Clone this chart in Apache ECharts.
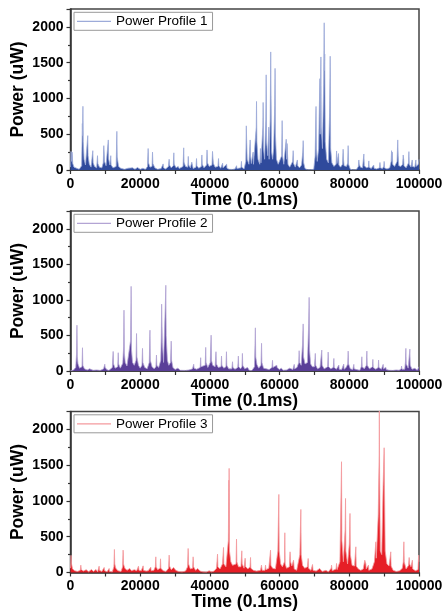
<!DOCTYPE html>
<html>
<head>
<meta charset="utf-8">
<script src="https://cdn.jsdelivr.net/npm/echarts@6/dist/echarts.min.js"></script>
<style>
  html, body { margin: 0; padding: 0; background: #fff; }
  #chart { width: 445px; height: 612px; }
</style>
</head>
<body>
<div id="chart"></div>
<script>
// values: [time (0.1ms), power (uW)]
const profile1 = [
  [0,40],[150,260],[300,120],[450,250],[650,90],[1000,40],[1500,15],[2500,10],[3200,60],[3400,650],[3480,480],[3560,890],[3650,400],[3900,150],[4300,70],
  [4800,50],[4950,480],[5050,200],[5400,80],[5900,40],[6300,50],[6400,270],[6500,100],[6900,50],[7500,30],[7750,200],[7850,90],[8300,40],[9000,30],
  [9400,100],[9550,340],[9650,250],[9750,120],[10200,60],[10700,80],[10850,420],[10950,150],[11300,70],[11550,200],[11650,70],[12200,30],[13100,50],
  [13300,540],[13400,180],[13800,50],[14400,25],[15500,10],[16500,25],[17000,8],[17800,30],[18500,10],[19200,35],[20000,10],[20800,25],[21500,8],
  [22100,50],[22280,300],[22380,100],[22800,40],[23400,50],[23530,250],[23650,90],[24200,30],[25000,10],[26000,20],[26580,85],[26700,30],[27300,15],
  [28100,50],[28300,150],[28400,70],[28900,30],[29500,60],[29650,240],[29750,80],[30300,30],[30900,50],[31200,20],[32300,50],[32480,310],[32580,110],
  [33000,50],[33650,40],[33800,190],[33900,70],[34400,30],[34800,110],[35200,20],[36000,40],[36160,160],[36260,60],[36800,25],[37550,50],[37700,210],
  [37800,80],[38300,30],[39050,70],[39180,280],[39300,100],[39800,50],[40600,70],[40750,260],[40850,180],[41000,90],[41500,40],[42300,50],[42480,160],
  [42580,60],[43100,25],[43650,95],[43750,30],[44300,20],[44800,80],[44900,25],[45500,10],[46500,8],[47200,15],[47650,60],[47750,20],[48300,10],
  [48900,30],[49050,120],[49150,40],[49800,15],[50300,120],[50450,617],[50550,400],[50700,150],[51200,80],[51550,420],[51650,200],[51900,90],
  [52400,250],[52500,80],[53000,100],[53300,600],[53380,958],[53480,400],[53800,150],[54300,80],[54500,300],[54650,100],[55000,120],[55200,600],
  [55280,944],[55380,300],[55700,150],[56050,700],[56150,1330],[56250,400],[56600,200],[56900,600],[57000,150],[57300,700],[57450,1650],[57550,1000],
  [57700,250],[58000,150],[58300,300],[58600,900],[58700,1420],[58800,500],[59100,150],[59600,80],[60000,60],[60600,200],[60730,690],[60830,200],
  [61200,80],[61900,430],[62000,150],[62150,370],[62400,80],[62900,40],[63750,120],[63900,270],[64000,90],[64500,40],[65100,140],[65200,60],
  [65700,30],[66300,70],[66650,250],[66770,410],[66900,100],[67300,20],[68000,5],[69000,5],[69800,10],[70200,200],[70450,888],[70550,300],[70800,120],
  [71200,300],[71550,1276],[71650,500],[71850,1580],[71950,600],[72300,300],[72650,1200],[72800,2057],[72850,1390],[72950,1620],[73100,400],[73500,150],
  [74000,100],[74350,800],[74520,1590],[74650,300],[75000,100],[75600,50],[76200,80],[76350,266],[76450,90],[76900,230],[77000,70],[77500,40],
  [78050,80],[78230,290],[78330,150],[78500,60],[79200,50],[79550,100],[79670,340],[79780,80],[80300,10],[81000,3],[82000,5],[82600,50],[82740,140],
  [82850,80],[83200,40],[83800,30],[84180,224],[84300,60],[84900,30],[85500,40],[85600,127],[85700,40],[86300,20],[87000,70],[87100,25],[87800,15],
  [88700,30],[88800,105],[88900,30],[89500,20],[89900,50],[90000,120],[90100,30],[90800,15],[91600,30],[92000,120],[92130,270],[92250,120],[92350,250],
  [92450,80],[93000,50],[93700,120],[93900,420],[94030,200],[94200,60],[94800,50],[95300,80],[95470,210],[95600,150],[95700,60],[96300,30],[97000,100],
  [97100,257],[97200,80],[97700,40],[98050,140],[98150,50],[98800,40],[99100,140],[99200,50],[99800,80],[100000,150]
];
const profile2 = [
  [0,5],[800,10],[1500,50],[1750,250],[1850,644],[1950,200],[2150,100],[2600,40],[3300,60],[3440,327],[3540,80],[4000,30],[4800,15],[5500,30],[6500,10],
  [7500,15],[8500,8],[9500,30],[9840,95],[9950,50],[10400,20],[11000,8],[12000,50],[12240,275],[12340,100],[12800,40],[13550,60],[13700,257],[13800,100],
  [14300,40],[15000,110],[15250,340],[15350,855],[15450,250],[15700,120],[16200,70],[16700,60],[17250,433],[17400,1190],[17500,300],[17800,120],
  [18300,80],[18800,150],[18950,527],[19050,200],[19500,80],[20000,40],[20500,80],[20660,318],[20760,120],[21300,50],[22000,30],[22600,120],
  [22800,574],[22900,150],[23400,60],[24000,30],[24500,60],[24670,224],[24770,80],[25300,50],[25900,150],[26050,480],[26150,940],[26250,937],
  [26350,400],[26700,120],[27200,900],[27350,1205],[27450,500],[27800,150],[28200,80],[28700,120],[28900,420],[29000,150],[29400,50],[30000,20],
  [30800,40],[31500,10],[33000,8],[34000,15],[35000,30],[35350,95],[35450,40],[36200,25],[37200,50],[37350,187],[37450,60],[38000,40],[38650,80],
  [38800,332],[38900,120],[39400,50],[40100,120],[40350,504],[40450,150],[40800,80],[41500,60],[41750,271],[41850,100],[42400,50],[43200,60],
  [43330,210],[43430,80],[44000,40],[44600,60],[44750,271],[44850,80],[45400,30],[46300,30],[46490,130],[46600,50],[47200,25],[48000,50],[48170,210],
  [48270,60],[48800,30],[49200,60],[49330,247],[49430,80],[50000,30],[50800,50],[51300,10],[52000,5],[52800,60],[52950,387],[53050,607],[53150,200],
  [53500,90],[54000,40],[54650,80],[54820,390],[54920,120],[55400,40],[56200,30],[57000,20],[57800,50],[57970,150],[58070,50],[58600,25],[59200,80],
  [59300,50],[59900,20],[60500,40],[61000,10],[62000,15],[62900,40],[63000,20],[63800,20],[64200,93],[64300,30],[65000,50],[65500,120],[65610,285],
  [65710,120],[66200,80],[66600,387],[66760,662],[66860,200],[67300,100],[68000,120],[68350,667],[68480,1035],[68580,300],[68900,100],[69400,60],
  [70000,60],[70250,247],[70350,80],[70900,30],[71600,50],[72100,294],[72200,80],[72800,30],[73800,60],[73940,266],[74040,60],[74700,30],[75400,50],
  [75570,177],[75670,50],[76300,25],[77000,84],[77100,25],[77800,20],[78400,98],[78500,25],[79100,50],[79550,100],[79680,280],[79780,100],[80300,30],
  [81000,20],[81300,93],[81400,30],[82100,20],[83000,10],[83450,60],[83600,200],[83700,60],[84300,30],[84900,80],[85040,280],[85140,80],[85800,30],
  [86650,60],[86760,163],[86860,50],[87600,25],[88300,50],[88400,154],[88500,50],[89200,25],[89650,40],[89720,93],[89800,30],[90500,50],[90600,20],
  [91500,10],[92500,8],[93500,15],[94300,10],[94900,30],[95000,70],[95100,25],[95900,25],[96100,120],[96230,318],[96330,100],[96900,40],[97250,60],
  [97380,308],[97480,80],[98000,25],[98800,37],[99500,10],[100000,60]
];
const profile3 = [
  [0,60],[150,240],[300,120],[600,50],[1200,25],[2000,15],[2800,30],[2960,103],[3100,40],[3700,20],[4500,40],[5200,10],[6000,42],[6600,15],[7300,42],
  [7800,10],[8100,30],[8210,89],[8300,30],[9000,15],[9550,25],[9650,70],[9800,25],[10500,10],[11000,25],[11080,56],[11200,15],[12000,10],[12450,80],
  [12600,322],[12700,120],[13000,60],[13600,25],[14500,15],[14950,80],[15100,313],[15200,120],[15600,60],[16200,30],[17000,56],[17500,25],[18300,40],
  [19000,25],[19510,89],[19650,30],[20300,25],[20840,93],[20950,30],[21700,20],[22300,25],[23040,75],[23150,25],[23900,30],[24350,80],[24480,219],
  [24580,80],[25000,40],[25700,60],[25830,191],[25930,60],[26600,25],[27400,15],[28150,60],[28310,243],[28410,90],[28900,40],[29600,70],[30200,30],
  [31000,15],[32000,10],[33000,20],[33600,80],[33760,336],[33860,120],[34400,50],[35050,60],[35190,219],[35300,80],[35900,30],[36500,56],[37200,20],
  [38000,10],[39000,8],[39780,23],[40500,10],[41200,20],[41900,60],[42190,257],[42300,80],[42900,50],[43600,120],[43910,350],[44000,120],[44600,80],
  [45300,450],[45420,1290],[45470,545],[45520,1455],[45620,300],[46000,150],[46500,100],[47000,80],[47500,120],[47640,467],[47740,150],[48200,80],
  [48900,80],[49160,303],[49260,120],[49800,60],[50110,200],[50250,80],[50900,50],[51500,80],[51660,210],[51760,60],[52500,30],[53400,20],[54500,30],
  [54800,103],[55000,30],[55800,30],[55960,103],[56100,40],[56900,60],[57400,312],[57500,100],[58000,60],[58800,50],[59500,300],[59780,1091],[59880,300],
  [60300,120],[60800,80],[61400,150],[61500,555],[61600,120],[62000,60],[62800,80],[63000,289],[63150,150],[63500,90],[64000,172],[64200,50],
  [64900,30],[65800,250],[66100,881],[66200,250],[66600,100],[67200,60],[68000,80],[68200,196],[68300,60],[69000,30],[69450,112],[69600,30],[70500,20],
  [71500,56],[72200,15],[73300,30],[74000,10],[74800,60],[74900,103],[75100,25],[76200,50],[76340,126],[76500,40],[77300,150],[77500,700],[77770,1548],
  [77870,450],[78300,150],[78800,600],[78920,1035],[79020,300],[79500,120],[80000,400],[80200,825],[80300,250],[80800,100],[81500,90],[81880,359],
  [81980,90],[82600,50],[83300,30],[84000,50],[84440,172],[84750,120],[84850,50],[85500,103],[85600,30],[86500,50],[87200,150],[87620,429],[87750,200],
  [88300,800],[88570,1641],[88620,2303],[88700,1400],[88900,300],[89300,250],[89700,1200],[90000,1743],[90100,1200],[90300,300],[90800,120],[91400,90],
  [91900,289],[92000,90],[92600,30],[93500,15],[94500,25],[95200,60],[95500,150],[95660,429],[95760,150],[96300,50],[97000,100],[97180,210],[97300,120],
  [97700,80],[98100,172],[98200,50],[99000,25],[99700,40],[99900,242],[100000,150]
];
const seriesNames = ['Power Profile 1', 'Power Profile 2', 'Power Profile 3'];
const darkColors = ['#2f4a9c', '#5a3e98', '#e61e26'];
const lightColors = ['#9dabd9', '#b3a4d4', '#f49a9e'];
const yTicks = [0, 500, 1000, 1500, 2000];

const chart = echarts.init(document.getElementById('chart'), null, { renderer: 'canvas' });
const tops = [9, 211, 411.5];
const heights = [161, 160, 161];
const datas = [profile1, profile2, profile3];
const font = 'Liberation Sans, Arial, sans-serif';

let grids = [], xAxes = [], yAxes = [], legends = [], series = [];
for (let i = 0; i < 3; i++) {
  grids.push({
    left: 70.5, right: 26, top: tops[i], height: heights[i],
    containLabel: false, outerBoundsMode: 'none',
    show: true, borderColor: '#444', borderWidth: 1.5, backgroundColor: 'transparent'
  });
  xAxes.push({
    type: 'value', gridIndex: i, min: 0, max: 100000, interval: 20000,
    name: 'Time (0.1ms)', nameLocation: 'middle', nameGap: 21, nameMoveOverlap: false,
    nameTextStyle: { fontFamily: font, fontWeight: 'bold', fontSize: 17.5, color: '#000' },
    axisLine: { show: true, onZero: false, lineStyle: { color: '#333', width: 1.5 } },
    axisTick: { show: true, inside: false, length: 4, lineStyle: { color: '#333', width: 1.2 } },
    minorTick: { show: true, splitNumber: 2, length: 4, lineStyle: { color: '#333', width: 1.2 } },
    splitLine: { show: false },
    axisLabel: {
      fontFamily: font, fontWeight: 'bold', fontSize: 14, color: '#000', margin: 7,
      formatter: v => String(v)
    }
  });
  yAxes.push({
    type: 'value', gridIndex: i, min: 0, max: 2250, interval: 500,
    name: 'Power (uW)', nameLocation: 'middle', nameGap: 43, nameMoveOverlap: false,
    nameTextStyle: { fontFamily: font, fontWeight: 'bold', fontSize: 17.5, color: '#000' },
    axisLine: { show: true, lineStyle: { color: '#333', width: 1.5 } },
    axisTick: { show: true, inside: false, length: 4, lineStyle: { color: '#333', width: 1.2 } },
    minorTick: { show: true, splitNumber: 2, length: 2.5, lineStyle: { color: '#333', width: 1.2 } },
    splitLine: { show: false },
    axisLabel: {
      fontFamily: font, fontWeight: 'bold', fontSize: 14, color: '#000', margin: 7,
      showMaxLabel: false,
      formatter: v => (yTicks.indexOf(v) >= 0 ? String(v) : '')
    }
  });
  legends.push({
    data: [{ name: seriesNames[i], icon: 'rect' }], left: 74, top: tops[i] + 3.3,
    orient: 'vertical', padding: [2, 5, 2, 3],
    borderColor: '#999', borderWidth: 1, backgroundColor: '#fff',
    itemWidth: 34, itemHeight: 1.2,
    itemStyle: { color: lightColors[i] },
    textStyle: { fontFamily: font, fontSize: 13.5, color: '#000' },
    selectedMode: false
  });
  series.push({
    name: seriesNames[i], type: 'line', xAxisIndex: i, yAxisIndex: i,
    data: datas[i], symbol: 'none', showSymbol: false,
    lineStyle: { color: lightColors[i], width: 0.8 },
    itemStyle: { color: darkColors[i] },
    areaStyle: { color: darkColors[i], opacity: 1, origin: 'start' },
    animation: false
  });
}

chart.setOption({
  animation: false,
  backgroundColor: '#fff',
  grid: grids,
  xAxis: xAxes,
  yAxis: yAxes,
  legend: legends,
  series: series
});
</script>
</body>
</html>
